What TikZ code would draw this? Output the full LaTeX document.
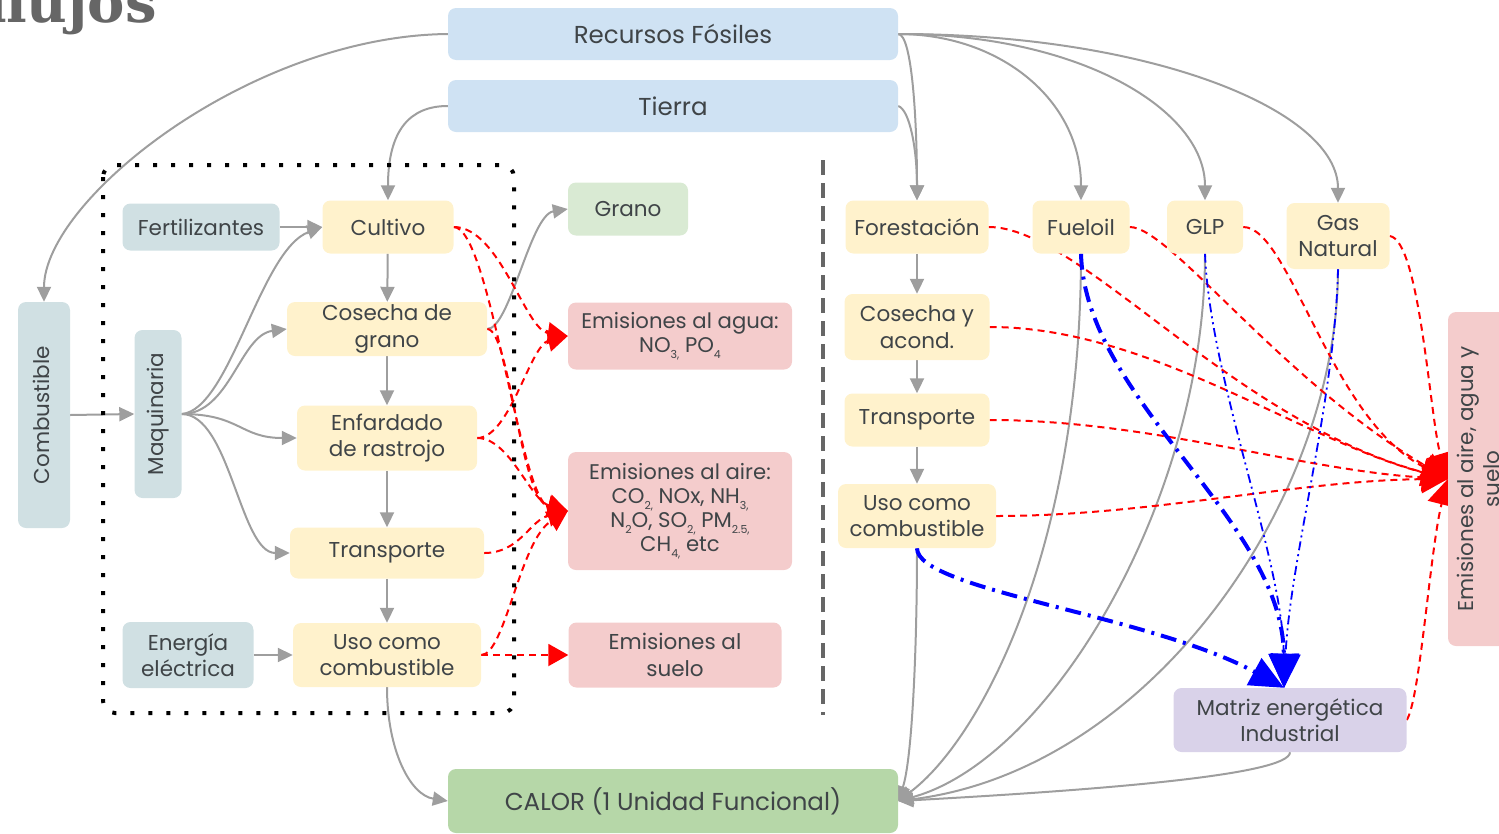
\documentclass[tikz,border=0pt]{standalone}
\usepackage{fontspec}
\setmainfont{Poppins}
\newfontfamily\headserif{DejaVu Serif}
\usepackage{graphicx}
\usetikzlibrary{arrows.meta,backgrounds}

\definecolor{fossil}{HTML}{CFE2F3}
\definecolor{input}{HTML}{D0E0E3}
\definecolor{stage}{HTML}{FFF2CC}
\definecolor{product}{HTML}{D9EAD3}
\definecolor{emis}{HTML}{F4CCCC}
\definecolor{matrix}{HTML}{D9D2E9}
\definecolor{heat}{HTML}{B6D7A8}
\definecolor{ink}{HTML}{3F4447}
\definecolor{flowgray}{HTML}{9E9E9E}
\definecolor{divgray}{HTML}{666666}
\definecolor{titlegray}{HTML}{666666}

\newcommand\boxfont{\fontsize{21.5}{26.5}\selectfont}
\newcommand\emisfont{\fontsize{21.2}{24}\selectfont}
\newcommand\bigboxfont{\fontsize{24.5}{28}\selectfont}
\newcommand\vtext[1]{\rotatebox[origin=c]{90}{\begin{tabular}{@{}c@{}}#1\end{tabular}}}
% small lowered index, as used in the chemical formulas
\newcommand\lowidx[1]{\raisebox{-0.55ex}{\fontsize{11}{11}\selectfont #1}}

\begin{document}
\begin{tikzpicture}[x=1pt,y=-1pt,
  bx/.style={rounded corners=8pt, align=center, inner sep=0pt, text=ink, font=\boxfont},
  flow/.style={draw=flowgray, line width=2pt, -{Triangle[length=15pt,width=14pt]}},
  emit/.style={draw=red, line width=2pt, dash pattern=on 7pt off 5pt, -{Triangle[length=20pt,width=22pt]}},
  emitbig/.style={draw=red, line width=2pt, dash pattern=on 7pt off 5pt, -{Triangle[length=26pt,width=28pt]}},
  fuelthick/.style={draw=blue, line width=4pt, dash pattern=on 16pt off 7pt on 3pt off 7pt, -{Triangle[length=34pt,width=30pt]}},
  fuelthin/.style={draw=blue, line width=1.8pt, dash pattern=on 9pt off 4pt on 2pt off 4pt on 2pt off 4pt, -{Triangle[length=34pt,width=30pt]}},
  frame/.style={draw=black, line width=4pt, dash pattern=on 4pt off 14pt, rounded corners=12pt},
  divider/.style={draw=divgray, line width=4pt, dash pattern=on 15pt off 8pt},
]
\useasboundingbox (0,0) rectangle (1499,833);

% heading, partly outside the page
\node[anchor=base east, inner sep=0pt, text=titlegray,
      font=\headserif\bfseries\fontsize{56}{60}\selectfont] (ttl) at (157,22) {flujos};

% sources
\node[bx, fill=fossil, minimum width=450pt, minimum height=52pt, font=\bigboxfont] (rf) at (673,34) {Recursos Fósiles};
\node[bx, fill=fossil, minimum width=450pt, minimum height=52pt, font=\bigboxfont] (tie) at (673,106) {Tierra};

% agricultural chain
\node[bx, fill=input, minimum width=52pt, minimum height=226pt] (comb) at (44,415) {\vtext{Combustible}};
\node[bx, fill=input, minimum width=157pt, minimum height=47pt] (fert) at (201,227) {Fertilizantes};
\node[bx, fill=input, minimum width=47pt, minimum height=168pt] (maq) at (158,414) {\vtext{Maquinaria}};
\node[bx, fill=input, minimum width=131pt, minimum height=66pt] (ener) at (188,655) {Energía\\eléctrica};
\node[bx, fill=stage, minimum width=131pt, minimum height=53pt] (cult) at (388,227) {Cultivo};
\node[bx, fill=stage, minimum width=200pt, minimum height=54pt] (cos) at (387,329) {Cosecha de\\grano};
\node[bx, fill=stage, minimum width=180pt, minimum height=65pt] (enf) at (387,438) {Enfardado\\de rastrojo};
\node[bx, fill=stage, minimum width=194pt, minimum height=51pt] (trl) at (387,553) {Transporte};
\node[bx, fill=stage, minimum width=188pt, minimum height=64pt] (usol) at (387,655) {Uso como\\combustible};

% products and emissions
\node[bx, fill=product, minimum width=120pt, minimum height=53pt] (gra) at (628,209) {Grano};
\node[bx, fill=emis, minimum width=224pt, minimum height=67pt, font=\emisfont] (agua) at (680,336)
  {Emisiones al agua:\\NO\lowidx{3,} PO\lowidx{4}};
\node[bx, fill=emis, minimum width=224pt, minimum height=118pt, font=\emisfont] (aire) at (680,511)
  {Emisiones al aire:\\CO\lowidx{2,} NOx, NH\lowidx{3,}\\N\lowidx{2}O, SO\lowidx{2,} PM\lowidx{2.5,}\\CH\lowidx{4,} etc};
\node[bx, fill=emis, minimum width=213pt, minimum height=65pt] (sue) at (675,655) {Emisiones al\\suelo};

% forestry chain and fossil fuels
\node[bx, fill=stage, minimum width=143pt, minimum height=53pt] (fore) at (917,227) {Forestación};
\node[bx, fill=stage, minimum width=145pt, minimum height=66pt] (cya) at (917,327) {Cosecha y\\acond.};
\node[bx, fill=stage, minimum width=145pt, minimum height=53pt] (trr) at (917,420) {Transporte};
\node[bx, fill=stage, minimum width=158pt, minimum height=64pt] (usor) at (917,516) {Uso como\\combustible};
\node[bx, fill=stage, minimum width=97pt, minimum height=53pt] (fuel) at (1081,227) {Fueloil};
\node[bx, fill=stage, minimum width=76pt, minimum height=53pt] (glp) at (1205,227) {GLP};
\node[bx, fill=stage, minimum width=103pt, minimum height=66pt] (gas) at (1338,236) {Gas\\Natural};
\node[bx, fill=matrix, minimum width=233pt, minimum height=64pt] (mat) at (1290,720) {Matriz energética\\Industrial};
\node[bx, fill=emis, minimum width=66pt, minimum height=334pt] (em) at (1481,479) {\vtext{Emisiones al aire, agua y\\suelo}};

% functional unit
\node[bx, fill=heat, minimum width=450pt, minimum height=64pt, font=\bigboxfont] (cal) at (673,801) {CALOR (1 Unidad Funcional)};

% system boundary and separator
\draw[frame] (103,165) rectangle (514,713);
\coordinate (divtop) at (823,160);
\coordinate (divbot) at (823,715);
\draw[divider] (divtop) -- (divbot);

\begin{pgfonlayer}{background}
% material and energy flows
\draw[flow] (rf.west) .. controls (250,36) and (44,200) .. (comb.north);
\draw[flow] (tie.west) .. controls (410,106) and (388,130) .. (cult.north);
\draw[flow] (rf.east) .. controls (912,34) and (917,120) .. (fore.north);
\draw[flow] (tie.east) .. controls (910,110) and (917,150) .. (fore.north);
\draw[flow] (rf.east) .. controls (1000,34) and (1081,100) .. (fuel.north);
\draw[flow] (rf.east) .. controls (1080,34) and (1205,110) .. (glp.north);
\draw[flow] (rf.east) .. controls (1150,34) and (1338,110) .. (gas.north);
\draw[flow] (fert) -- (cult);
\draw[flow] (comb.east) -- (maq.west);
\draw[flow] (maq.east) .. controls (230,410) and (260,250) .. (cult.west);
\draw[flow] (maq.east) .. controls (230,414) and (240,335) .. (cos.west);
\draw[flow] (maq.east) .. controls (240,414) and (240,438) .. (enf.west);
\draw[flow] (maq.east) .. controls (230,414) and (240,553) .. (trl.west);
\draw[flow] (ener) -- (usol);
\draw[flow] (cult) -- (cos);
\draw[flow] (cos) -- (enf);
\draw[flow] (enf) -- (trl);
\draw[flow] (trl) -- (usol);
\draw[flow] (cos.east) .. controls (510,329) and (530,215) .. (gra.west);
\draw[flow] (usol.south) .. controls (387,750) and (410,795) .. (cal.west);
\draw[flow] (fore) -- (cya);
\draw[flow] (cya) -- (trr);
\draw[flow] (trr) -- (usor);
\draw[flow] (usor.south) .. controls (917,650) and (912,760) .. (cal.east);
\draw[flow] (fuel.south) .. controls (1081,550) and (980,740) .. (cal.east);
\draw[flow] (glp.south) .. controls (1205,500) and (1050,760) .. (cal.east);
\draw[flow] (gas.south) .. controls (1338,500) and (1150,770) .. (cal.east);
\draw[flow] (mat.south) .. controls (1290,775) and (1100,790) .. (cal.east);

% emissions of the agricultural chain
\draw[emit] (cult.east) .. controls (500,227) and (525,330) .. (agua.west);
\draw[emit] (cult.east) .. controls (490,227) and (520,500) .. (aire.west);
\draw[emit] (cos.east) .. controls (510,329) and (520,500) .. (aire.west);
\draw[emit] (enf.east) .. controls (510,438) and (530,345) .. (agua.west);
\draw[emit] (enf.east) .. controls (510,438) and (530,500) .. (aire.west);
\draw[emit] (trl.east) .. controls (520,553) and (530,520) .. (aire.west);
\draw[emit] (usol.east) .. controls (505,655) and (520,540) .. (aire.west);
\draw[emit] (usol.east) -- (sue.west);

% emissions of the forestry and fossil chains
\draw[emitbig] (fore.east) .. controls (1080,227) and (1230,420) .. (em.west);
\draw[emitbig] (fuel.east) .. controls (1170,227) and (1280,380) .. (em.west);
\draw[emitbig] (glp.east) .. controls (1290,227) and (1330,420) .. (em.west);
\draw[emitbig] (gas.east) .. controls (1420,240) and (1430,420) .. (em.west);
\draw[emitbig] (cya.east) .. controls (1150,327) and (1300,440) .. (em.west);
\draw[emitbig] (trr.east) .. controls (1150,420) and (1300,470) .. (em.west);
\draw[emitbig] (usor.east) .. controls (1150,516) and (1300,480) .. (em.west);
\draw[emitbig] (mat.east) .. controls (1420,700) and (1430,550) .. (em.west);

% fuels feeding the industrial energy matrix
\draw[fuelthick] (fuel.south) .. controls (1085,400) and (1283,520) .. ([xshift=-6pt]mat.north);
\draw[fuelthin] (glp.south) .. controls (1210,380) and (1283,560) .. ([xshift=-6pt]mat.north);
\draw[fuelthin] (gas.south) .. controls (1335,400) and (1290,560) .. ([xshift=-6pt]mat.north);
\draw[fuelthick] (usor.south) .. controls (917,590) and (1150,615) .. ([xshift=-6pt]mat.north);
\end{pgfonlayer}
\end{tikzpicture}
\end{document}
